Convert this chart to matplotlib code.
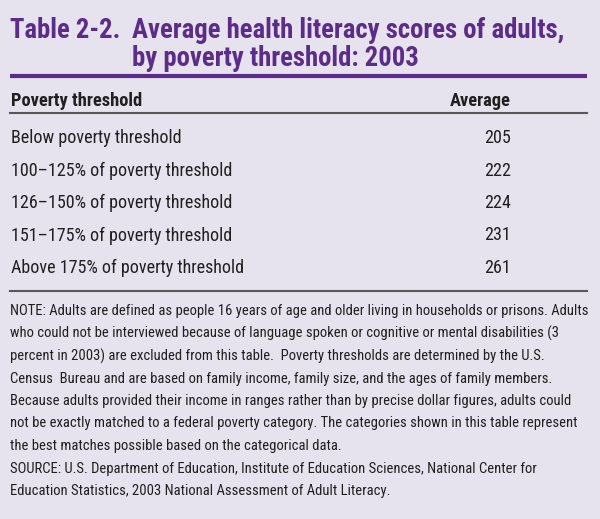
import matplotlib
matplotlib.use('Agg')
import matplotlib.pyplot as plt
from matplotlib import font_manager

# Table data
categories = [
    'Below poverty threshold',
    '100\u2013125% of poverty threshold',
    '126\u2013150% of poverty threshold',
    '151\u2013175% of poverty threshold',
    'Above 175% of poverty threshold',
]
averages = [205, 222, 224, 231, 261]
col_headers = ['Poverty threshold', 'Average']
title_lines = ['Table 2-2.', 'Average health literacy scores of adults,',
               'by poverty threshold: 2003']
note_lines = [
    'NOTE: Adults are defined as people 16 years of age and older living in households or prisons. Adults',
    'who could not be interviewed because of language spoken or cognitive or mental disabilities (3',
    'percent in 2003) are excluded from this table.  Poverty thresholds are determined by the U.S.',
    'Census  Bureau and are based on family income, family size, and the ages of family members.',
    'Because adults provided their income in ranges rather than by precise dollar figures, adults could',
    'not be exactly matched to a federal poverty category. The categories shown in this table represent',
    'the best matches possible based on the categorical data.',
    'SOURCE: U.S. Department of Education, Institute of Education Sciences, National Center for',
    'Education Statistics, 2003 National Assessment of Adult Literacy.',
]

# pick the narrowest face that is installed
names = {f.name for f in font_manager.fontManager.ttflist}
candidates = ['Liberation Sans Narrow', 'Roboto Condensed', 'Open Sans Condensed',
              'DejaVu Sans Condensed', 'Roboto', 'Liberation Sans']
font = next((c for c in candidates if c in names), 'DejaVu Sans')
plt.rcParams['font.family'] = [font, 'DejaVu Sans']

bg = '#E6E2EE'
purple = '#5C2D88'
ink = '#231F20'
rule = '#58585A'

fig = plt.figure(figsize=(6, 5.19), dpi=100, facecolor=bg)
ax = fig.add_axes([0, 0, 1, 1])
ax.set_xlim(0, 600)
ax.set_ylim(519, 0)
ax.axis('off')
renderer = fig.canvas.get_renderer()


def fit_size(text, width, weight='normal', cap=30):
    # font size (pt) that makes text about `width` pixels wide
    t = ax.text(0, 0, text, fontsize=10, fontweight=weight)
    w = t.get_window_extent(renderer).width
    t.remove()
    return min(cap, 10 * width / w)


title_fs = fit_size(title_lines[1], 433, 'bold', cap=20)
head_fs = fit_size(col_headers[0], 132, 'bold', cap=14)
row_fs = fit_size(categories[-1], 232, cap=14)
note_fs = fit_size(note_lines[0], 573, cap=10.5)

# title
ax.text(10, 30, title_lines[0], color=purple, fontsize=title_fs, fontweight='bold', va='center')
ax.text(132, 30, title_lines[1], color=purple, fontsize=title_fs, fontweight='bold', va='center')
ax.text(132, 58, title_lines[2], color=purple, fontsize=title_fs, fontweight='bold', va='center')
ax.plot([10, 587], [76, 76], color=purple, lw=3, solid_capstyle='butt')

# header
ax.text(11, 101, col_headers[0], color=ink, fontsize=head_fs, fontweight='bold', va='center')
ax.text(511, 101, col_headers[1], color=ink, fontsize=head_fs, fontweight='bold', va='center', ha='right')
ax.plot([10, 587], [112.5, 112.5], color=rule, lw=1.5)

# rows
for i, (cat, val) in enumerate(zip(categories, averages)):
    y = 138 + i * 32.5
    ax.text(11, y, cat, color=ink, fontsize=row_fs, va='center')
    ax.text(511, y, str(val), color=ink, fontsize=row_fs, va='center', ha='right')
ax.plot([10, 587], [291, 291], color=rule, lw=1.5)

# notes
for i, line in enumerate(note_lines):
    ax.text(10, 311 + i * 22.5, line, color=ink, fontsize=note_fs, va='center')

fig.savefig('out.png', dpi=100, facecolor=bg)
